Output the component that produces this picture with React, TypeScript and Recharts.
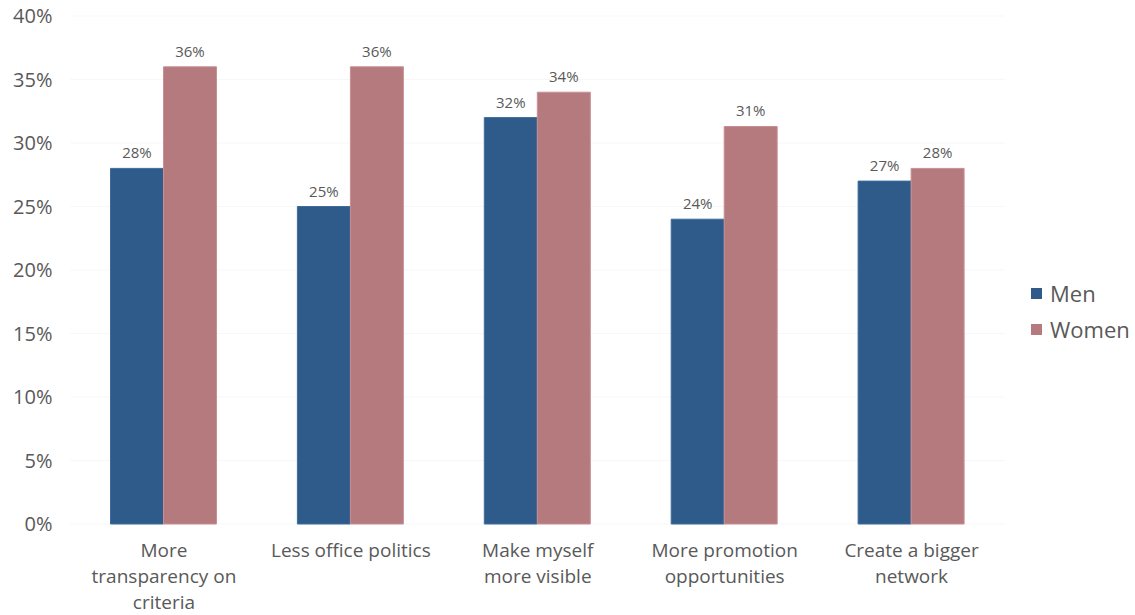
// Promotion drivers by gender — grouped bars, Men vs Women.
import { BarChart, Bar, XAxis, YAxis, CartesianGrid, LabelList } from "recharts";

const categories = [
  "More\ntransparency on\ncriteria",
  "Less office politics",
  "Make myself\nmore visible",
  "More promotion\nopportunities",
  "Create a bigger\nnetwork",
];
const men = [28, 25, 32, 24, 27];
const women = [36, 36, 34, 31.3, 28];
const yTicks = [0, 5, 10, 15, 20, 25, 30, 35, 40];

const data = categories.map((name, i) => ({ name, men: men[i], women: women[i] }));

const FONT = "'Open Sans', 'DejaVu Sans', sans-serif";
const TEXT = "#595959";
const MEN = "#2e5b8a";
const WOMEN = "#b57a7e";

function CategoryTick({ x, y, payload }: any) {
  const lines = String(payload.value).split("\n");
  return (
    <text x={x} y={y} textAnchor="middle" fill={TEXT} fontSize={19} fontFamily={FONT}>
      {lines.map((l, i) => (
        <tspan key={i} x={x} dy={i === 0 ? 25 : 26}>
          {l}
        </tspan>
      ))}
    </text>
  );
}

function SideLegend() {
  const items = [
    { label: "Men", color: MEN },
    { label: "Women", color: WOMEN },
  ];
  return (
    <div
      style={{
        position: "absolute",
        left: 1031,
        top: 275,
        fontFamily: FONT,
        fontSize: 22,
        color: TEXT,
      }}
    >
      {items.map((it) => (
        <div key={it.label} style={{ display: "flex", alignItems: "center", height: 36 }}>
          <span style={{ width: 11, height: 11, background: it.color, marginRight: 8 }} />
          {it.label}
        </div>
      ))}
    </div>
  );
}

export default function App() {
  return (
    <div style={{ position: "absolute", left: 0, top: 0, width: 1135, height: 615, background: "#fff" }}>
      <BarChart
        width={1135}
        height={615}
        data={data}
        margin={{ top: 16, right: 130, bottom: 1, left: 0 }}
        barCategoryGap={40}
        barGap={0}
      >
        <CartesianGrid vertical={false} stroke="#f7f7f7" />
        <XAxis
          dataKey="name"
          height={90}
          axisLine={false}
          tickLine={false}
          interval={0}
          tick={<CategoryTick />}
        />
        <YAxis
          width={70.5}
          domain={[0, 40]}
          ticks={yTicks}
          axisLine={false}
          tickLine={false}
          tickSize={16}
          tickMargin={2}
          tickFormatter={(v: number) => `${v}%`}
          tick={{ fill: TEXT, fontSize: 20, fontFamily: FONT }}
        />
        <Bar dataKey="men" name="Men" fill={MEN} stroke="#3d6c9c" isAnimationActive={false}>
          <LabelList
            dataKey="men"
            position="top"
            offset={10}
            formatter={(v: number) => `${Math.round(v)}%`}
            style={{ fill: "#595959", fontSize: 15, fontFamily: FONT }}
          />
        </Bar>
        <Bar dataKey="women" name="Women" fill={WOMEN} stroke="#c98f95" isAnimationActive={false}>
          <LabelList
            dataKey="women"
            position="top"
            offset={10}
            formatter={(v: number) => `${Math.round(v)}%`}
            style={{ fill: "#595959", fontSize: 15, fontFamily: FONT }}
          />
        </Bar>
      </BarChart>
      <SideLegend />
    </div>
  );
}
